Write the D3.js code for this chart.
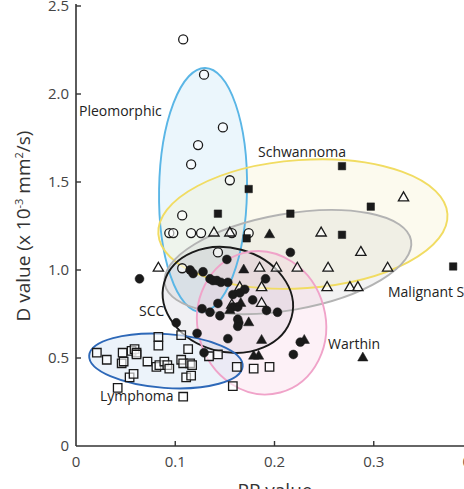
<!DOCTYPE html>
<html><head><meta charset="utf-8">
<script src="https://cdn.jsdelivr.net/npm/d3@7"></script>
<style>html,body{margin:0;padding:0;background:#fff;overflow:hidden;width:464px;height:489px}</style>
</head><body>
<svg id="c" width="500" height="489"></svg>
<script>
// ---- data ----
const xTicks = [0, 0.1, 0.2, 0.3, 0.4];
const yTicks = [0, 0.5, 1.0, 1.5, 2.0, 2.5];
const groups = ["Pleomorphic", "Schwannoma", "Malignant Schwannoma", "SCC", "Warthin", "Lymphoma"];

const pleomorphic = [[0.108,2.31],[0.129,2.11],[0.148,1.81],[0.123,1.71],[0.116,1.60],[0.155,1.51],[0.107,1.31],
 [0.094,1.21],[0.098,1.21],[0.116,1.21],[0.126,1.21],[0.157,1.21],[0.174,1.21],[0.107,1.01],[0.143,1.10]];
const schwannoma = [[0.174,1.46],[0.143,1.32],[0.216,1.32],[0.172,1.18],[0.268,1.59],[0.297,1.36],[0.268,1.20],[0.380,1.02]];
const malignant = [[0.083,1.01],[0.139,1.21],[0.155,1.21],[0.247,1.21],[0.330,1.41],[0.185,1.01],[0.202,1.01],[0.223,1.01],
 [0.254,1.01],[0.314,1.01],[0.287,1.10],[0.165,0.90],[0.187,0.90],[0.253,0.90],[0.276,0.90],[0.284,0.90],[0.187,0.81],[0.157,0.80]];
const warthin = [[0.195,1.20],[0.169,1.00],[0.166,0.81],[0.155,0.77],[0.174,0.70],[0.187,0.60],[0.179,0.51],[0.184,0.51],[0.230,0.60],[0.289,0.50]];
const scc = [[0.064,0.95],[0.115,1.00],[0.118,0.98],[0.128,0.99],[0.135,0.95],[0.138,0.94],[0.142,0.94],[0.146,0.93],[0.152,1.06],
 [0.153,0.93],[0.216,1.10],[0.191,0.95],[0.158,0.86],[0.165,0.87],[0.178,0.83],[0.143,0.81],[0.127,0.78],[0.135,0.76],[0.158,0.79],
 [0.163,0.79],[0.192,0.77],[0.203,0.76],[0.145,0.74],[0.163,0.72],[0.164,0.70],[0.163,0.68],[0.101,0.70],[0.122,0.64],[0.153,0.61],
 [0.129,0.53],[0.219,0.52],[0.226,0.59],[0.170,0.89]];
const lymphoma = [[0.021,0.53],[0.031,0.49],[0.047,0.53],[0.046,0.47],[0.048,0.48],[0.056,0.54],[0.059,0.55],[0.061,0.53],[0.061,0.52],
 [0.072,0.48],[0.081,0.45],[0.084,0.46],[0.089,0.48],[0.092,0.46],[0.094,0.44],[0.054,0.39],[0.058,0.41],[0.042,0.33],[0.083,0.62],
 [0.083,0.57],[0.106,0.63],[0.113,0.55],[0.106,0.49],[0.108,0.47],[0.115,0.47],[0.117,0.46],[0.111,0.39],[0.116,0.40],[0.134,0.51],
 [0.143,0.52],[0.162,0.45],[0.179,0.44],[0.195,0.45],[0.158,0.34],[0.108,0.28]];
// ellipse: centre (x,y), semi-axes in data units
const ellipseCx = [0.128, 0.2286, 0.2135, 0.153, 0.187, 0.0906];
const ellipseCy = [1.455, 1.261, 1.045, 0.83, 0.70, 0.483];
const ellipseRx = [0.0443, 0.146, 0.126, 0.0665, 0.0645, 0.0775];
const ellipseRy = [0.693, 0.364, 0.273, 0.295, 0.41, 0.153];

// ---- styles ----
const ellStyle = {
  "Pleomorphic": {stroke:"#5ab6e6", fill:"rgba(190,225,245,0.30)", rot:1},
  "Schwannoma": {stroke:"#f1dc62", fill:"rgba(245,240,200,0.30)", rot:-4},
  "Malignant Schwannoma": {stroke:"#b3b3b3", fill:"rgba(200,200,200,0.22)", rot:-10},
  "SCC": {stroke:"#1a1a1a", fill:"rgba(170,170,190,0.18)", rot:15},
  "Warthin": {stroke:"#f0a3c9", fill:"rgba(245,190,220,0.22)", rot:-15},
  "Lymphoma": {stroke:"#2d68b8", fill:"rgba(200,220,240,0.35)", rot:4}
};

const svg = d3.select("#c");
const x = d3.scaleLinear().domain([0, 0.4]).range([76, 473]);
const y = d3.scaleLinear().domain([0, 2.5]).range([446, 6]);
const font = "'Open Sans', 'Liberation Sans', sans-serif";

// ellipses
const ells = groups.map((g,i)=>({g, cx:ellipseCx[i], cy:ellipseCy[i], rx:ellipseRx[i], ry:ellipseRy[i]}));
const eg = svg.append("g");
eg.selectAll("ellipse.f").data(ells).join("ellipse")
  .attr("cx", d=>x(d.cx)).attr("cy", d=>y(d.cy))
  .attr("rx", d=>x(d.cx+d.rx)-x(d.cx)).attr("ry", d=>y(d.cy)-y(d.cy+d.ry))
  .attr("transform", d=>`rotate(${ellStyle[d.g].rot},${x(d.cx)},${y(d.cy)})`)
  .attr("fill", d=>ellStyle[d.g].fill).attr("stroke","none");
eg.selectAll("ellipse.s").data(ells).join("ellipse")
  .attr("cx", d=>x(d.cx)).attr("cy", d=>y(d.cy))
  .attr("rx", d=>x(d.cx+d.rx)-x(d.cx)).attr("ry", d=>y(d.cy)-y(d.cy+d.ry))
  .attr("transform", d=>`rotate(${ellStyle[d.g].rot},${x(d.cx)},${y(d.cy)})`)
  .attr("fill","none").attr("stroke", d=>ellStyle[d.g].stroke).attr("stroke-width",1.9);

// points
const pg = svg.append("g");
const ink = "#1a1a1a";
function sym(data, type, size, filled){
  pg.append("g").selectAll("path").data(data).join("path")
    .attr("d", d3.symbol().type(type).size(size))
    .attr("transform", d=>`translate(${x(d[0])},${y(d[1])})`)
    .attr("fill", filled ? ink : "#fff").attr("fill-opacity", filled?1:0.6)
    .attr("stroke", ink).attr("stroke-width", filled?0.5:1.3);
}
sym(lymphoma, d3.symbolSquare, 72, false);
sym(pleomorphic, d3.symbolCircle, 64, false);
sym(malignant, d3.symbolTriangle, 46, false);
sym(schwannoma, d3.symbolSquare, 56, true);
sym(scc, d3.symbolCircle, 62, true);
sym(warthin, d3.symbolTriangle, 46, true);

// axes
const ax = svg.append("g").attr("font-family", font);
ax.append("line").attr("x1",x(0)).attr("x2",x(0.4)+10).attr("y1",y(0)).attr("y2",y(0)).attr("stroke","#333").attr("stroke-width",1.6);
ax.append("line").attr("x1",x(0)).attr("x2",x(0)).attr("y1",y(0)).attr("y2",y(2.5)-2).attr("stroke","#333").attr("stroke-width",1.6);
ax.selectAll("line.xt").data(xTicks.slice(1)).join("line")
  .attr("x1",d=>x(d)).attr("x2",d=>x(d)).attr("y1",y(0)).attr("y2",y(0)-5).attr("stroke","#333").attr("stroke-width",1.4);
ax.selectAll("line.yt").data(yTicks.slice(1)).join("line")
  .attr("x1",x(0)).attr("x2",x(0)+5).attr("y1",d=>y(d)).attr("y2",d=>y(d)).attr("stroke","#333").attr("stroke-width",1.4);
ax.selectAll("text.xl").data(xTicks).join("text")
  .attr("x",d=>x(d)).attr("y",y(0)+21).attr("text-anchor","middle")
  .attr("font-size",15).attr("fill","#444").text(d=>d===0?"0":d.toFixed(1));
ax.selectAll("text.yl").data(yTicks).join("text")
  .attr("x",x(0)-7).attr("y",d=>y(d)+5).attr("text-anchor","end")
  .attr("font-size",15).attr("fill","#444").text(d=>d===0?"0":d.toFixed(1));

// titles
ax.append("text").attr("x",275).attr("y",497).attr("text-anchor","middle")
  .attr("font-size",19).attr("fill","#333").text("PP value");
const yt = ax.append("text").attr("transform","translate(30,226) rotate(-90)").attr("text-anchor","middle")
  .attr("font-size",19).attr("fill","#333");
yt.append("tspan").text("D value (x 10");
yt.append("tspan").attr("font-size",11).attr("dy",-7).text("-3");
yt.append("tspan").attr("dy",7).text(" mm");
yt.append("tspan").attr("font-size",11).attr("dy",-7).text("2");
yt.append("tspan").attr("dy",7).text("/s)");

// group labels
const labels = [
  {t:"Pleomorphic", x:79, y:116},
  {t:"Schwannoma", x:258, y:157},
  {t:"Malignant Schwannoma", x:388, y:297},
  {t:"SCC", x:139, y:316},
  {t:"Warthin", x:328, y:349},
  {t:"Lymphoma", x:100, y:401}
];
svg.append("g").selectAll("text").data(labels).join("text")
  .attr("x",d=>d.x).attr("y",d=>d.y).attr("font-family",font).attr("font-size",14).attr("fill","#222").text(d=>d.t);
</script>
</body></html>
